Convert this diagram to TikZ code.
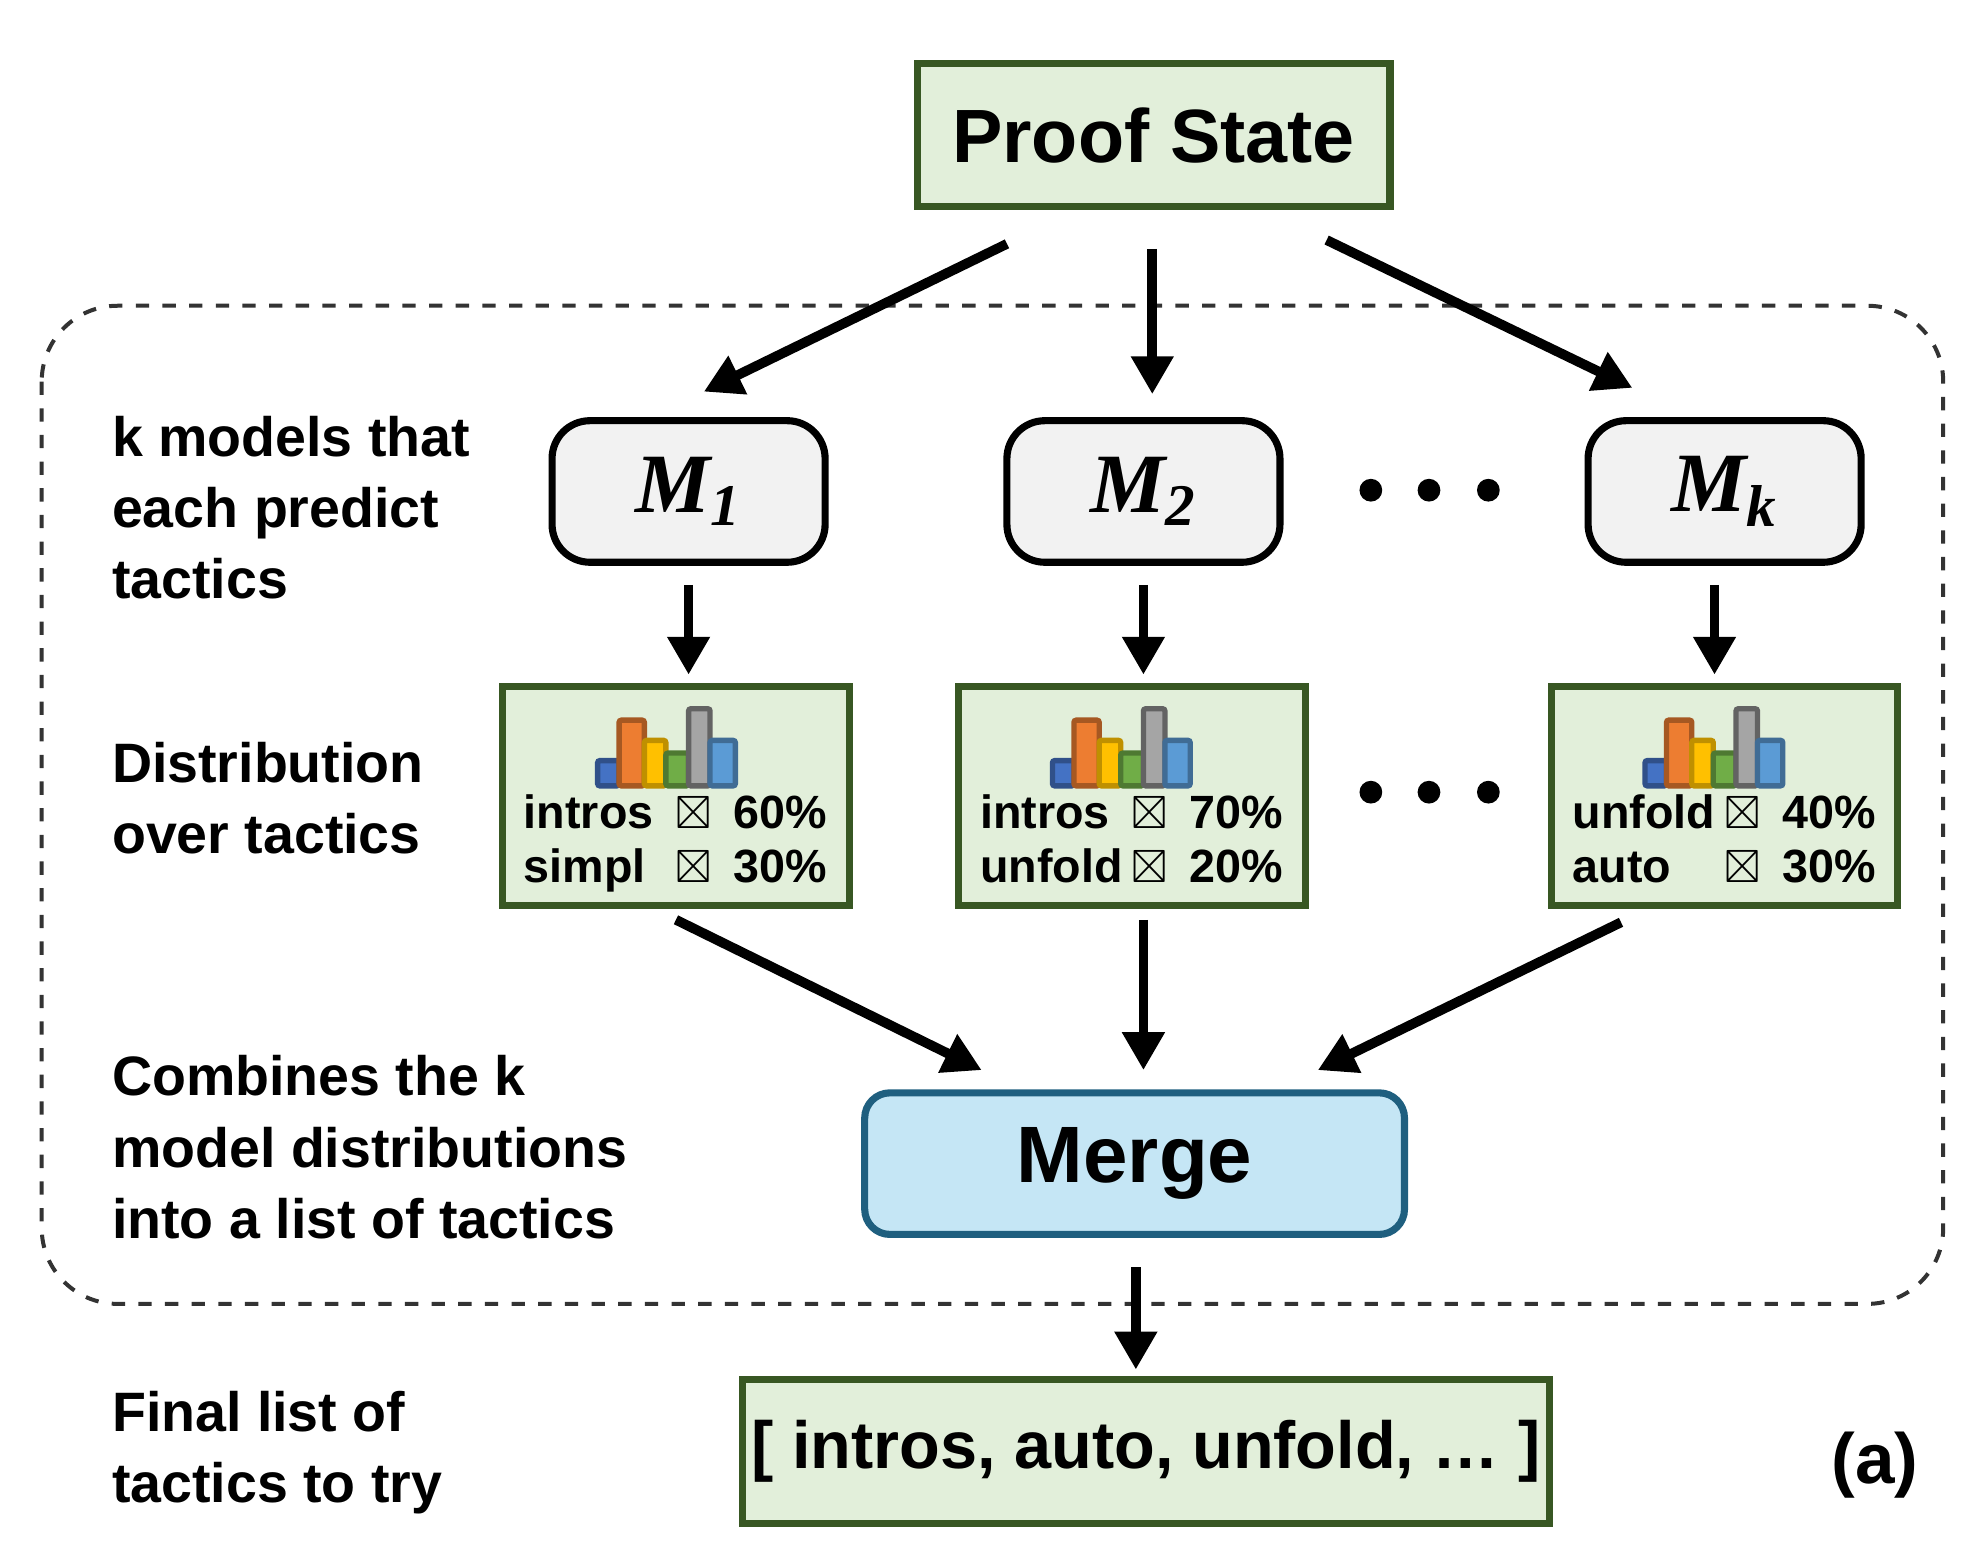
\documentclass[tikz,border=0pt]{standalone}
\usepackage{amsmath}
\usepackage{amssymb}
\usepackage{fontspec}
\setmainfont{Liberation Sans}
\newfontfamily\mfont{Liberation Serif}
\usetikzlibrary{arrows.meta,positioning,shapes}
\definecolor{psgreen}{RGB}{226,239,218}
\definecolor{psborder}{RGB}{56,87,35}
\definecolor{mgray}{RGB}{242,242,242}
\definecolor{mgblue}{RGB}{197,230,245}
\definecolor{mgborder}{RGB}{31,95,127}
\definecolor{cblue}{RGB}{68,114,196}
\definecolor{corange}{RGB}{237,125,49}
\definecolor{cyellow}{RGB}{255,192,0}
\definecolor{cgreen}{RGB}{112,173,71}
\definecolor{cgray}{RGB}{165,165,165}
\definecolor{clight}{RGB}{91,155,213}
\tikzstyle{state} = [rectangle, minimum width=3.74cm, minimum height=1.13cm, draw=psborder, fill=psgreen, line width=1.6pt, font=\bfseries\fontsize{17}{20}\selectfont]
\tikzstyle{model} = [rectangle, rounded corners=0.3cm, minimum width=2.16cm, minimum height=1.12cm, draw=black, fill=mgray, line width=1.6pt, font=\mfont\bfseries\itshape\fontsize{19}{22}\selectfont]
\tikzstyle{dist} = [rectangle, minimum width=2.74cm, minimum height=1.73cm, draw=psborder, fill=psgreen, line width=1.6pt]
\tikzstyle{distlines} = [anchor=west, inner sep=0pt, font=\bfseries\fontsize{10.5}{13}\selectfont]
\tikzstyle{side} = [anchor=west, align=left, inner sep=0pt, font=\bfseries\fontsize{12.5}{16}\selectfont]
\tikzstyle{arrow} = [line width=2.2pt, -{Triangle[length=0.3cm,width=0.32cm]}]
\tikzstyle{bar} = [line width=1.2pt, rounded corners=0.5pt]
\newcommand{\tacticchart}[2]{%
  \begin{scope}[shift={(#1,#2)}]
    \draw[bar, draw=cblue!70!black, fill=cblue] (0,0) rectangle (17,-20);
    \draw[bar, draw=corange!70!black, fill=corange] (17,0) rectangle (37,-52);
    \draw[bar, draw=cyellow!75!black, fill=cyellow] (37,0) rectangle (54,-36);
    \draw[bar, draw=cgreen!70!black, fill=cgreen] (54,0) rectangle (72,-26);
    \draw[bar, draw=cgray!60!black, fill=cgray] (72,0) rectangle (89,-61);
    \draw[bar, draw=clight!70!black, fill=clight] (89,0) rectangle (109,-36);
  \end{scope}}
\newcommand{\tline}[4]{\begin{tabular}{@{}p{1.2cm}@{}p{0.46cm}@{}l@{}}#1 & $\boxtimes$ & #2\\[-1pt] #3 & $\boxtimes$ & #4\end{tabular}}

\begin{document}
\begin{tikzpicture}[x=0.01cm, y=-0.01cm]
\useasboundingbox (0,0) rectangle (1560,1237.5);
% Dashed frame
\draw[dashed, line width=0.9pt, rounded corners=0.6cm, draw=black!80] (33,242) rectangle (1538,1032);

% Nodes
\node (proof) [state] at (913,107) {Proof State};
\node (m1) [model] at (545,389) {M\textsubscript{1}};
\node (m2) [model] at (905,389) {M\textsubscript{2}};
\node (mk) [model] at (1365,389) {M\textsubscript{k}};
\node (d1) [dist] at (535,630) {};
\node (d2) [dist] at (896,630) {};
\node (dk) [dist] at (1365,630) {};
\tacticchart{473}{622}
\tacticchart{833}{622}
\tacticchart{1302}{622}
\node (t1) [distlines] at (414,668) {\tline{intros}{60\%}{simpl}{30\%}};
\node (t2) [distlines] at (775,668) {\tline{intros}{70\%}{unfold}{20\%}};
\node (tk) [distlines] at (1244,668) {\tline{unfold}{40\%}{auto}{30\%}};
\node (merge) [rectangle, rounded corners=0.2cm, minimum width=4.27cm, minimum height=1.12cm, draw=mgborder, fill=mgblue, line width=1.6pt, font=\bfseries\fontsize{18}{21}\selectfont] at (898,921) {Merge};
\node (final) [state, minimum width=6.38cm, minimum height=1.14cm, inner sep=1pt, font=\bfseries\fontsize{15}{18}\selectfont] at (907,1149) {[ intros, auto, unfold, \dots\ ]};
\node (tag) [font=\bfseries\fontsize{16}{19}\selectfont] at (1484,1160) {(a)};

% Dots
\foreach \yy in {388,627}
  \foreach \xx in {1085,1131,1178}
    \fill (\xx,\yy) circle (0.09cm);

% Side labels
\node (lab1) [side] at (88,402) {k models that\\each predict\\tactics};
\node (lab2) [side] at (88,632) {Distribution\\over tactics};
\node (lab3) [side] at (88,908) {Combines the k\\model distributions\\into a list of tactics};
\node (lab4) [side] at (88,1150) {Final list of\\tactics to try};

% Arrows
\coordinate (pa) at (797,193);
\coordinate (pb) at (912,197);
\coordinate (pc) at (1050,190);
\coordinate (ma) at (557,310);
\coordinate (mb) at (912,312);
\coordinate (mc) at (1292,307);
\draw[arrow] (pa) -- (ma);
\draw[arrow] (pb) -- (mb);
\draw[arrow] (pc) -- (mc);
\foreach \xx/\nn in {545/1,905/2,1357/k} {
  \coordinate (ta\nn) at (\xx,463);
  \coordinate (tb\nn) at (\xx,534);
  \draw[arrow] (ta\nn) -- (tb\nn);
}
\coordinate (qa) at (535,728);
\coordinate (qb) at (905,728);
\coordinate (qc) at (1283,730);
\coordinate (ra) at (777,847);
\coordinate (rb) at (905,847);
\coordinate (rc) at (1043,847);
\draw[arrow] (qa) -- (ra);
\draw[arrow] (qb) -- (rb);
\draw[arrow] (qc) -- (rc);
\coordinate (fa) at (899,1003);
\coordinate (fb) at (899,1084);
\draw[arrow] (fa) -- (fb);
\end{tikzpicture}
\end{document}
